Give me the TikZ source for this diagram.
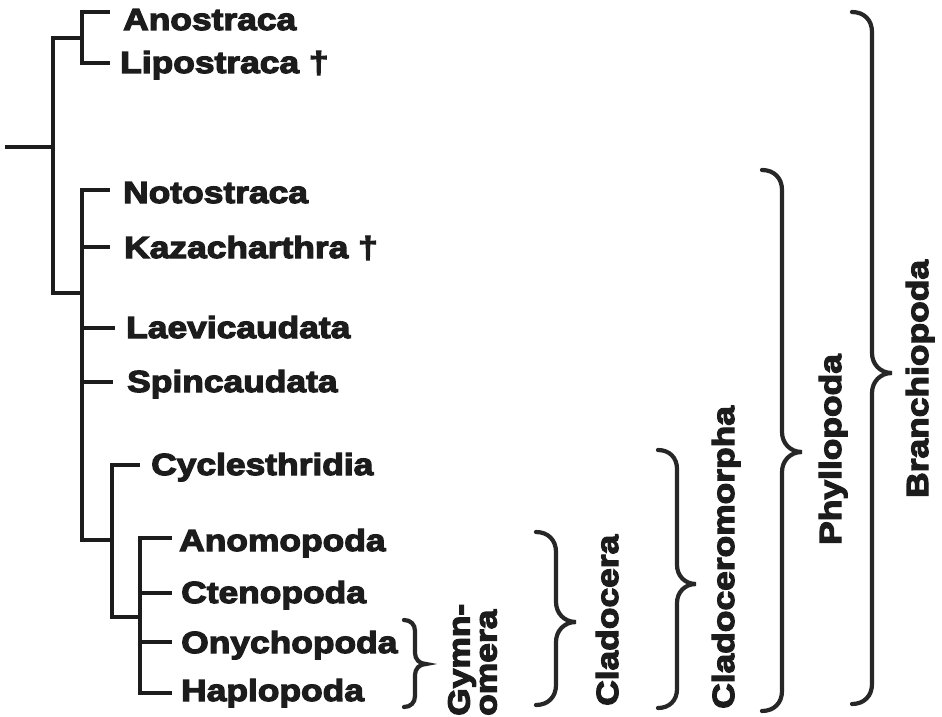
\documentclass[tikz,border=0pt]{standalone}
\usepackage{fontspec}
\newfontfamily\labfont{Liberation Sans}[FakeStretch=1.16,FakeBold=4]
\definecolor{ink}{HTML}{1C1C1C}
\tikzset{
  tree/.style={line width=4.8pt, draw=ink, line join=miter},
  bracestyle/.style={line width=4.2pt, draw=ink!95, line cap=round},
  lab/.style={font=\labfont\bfseries\fontsize{30.5}{27}\selectfont, text=ink, inner sep=0pt, anchor=base west},
  vlab/.style={lab, rotate=90},
}
\newcommand\cbrace[5]{% x of stem, top y, tip y, bottom y, width
  \draw[bracestyle] (#1-#5,#2) .. controls (#1-0.4*#5,#2) and (#1,#2+0.4*#5) .. (#1,#2+#5)
    -- (#1,#3-#5) .. controls (#1,#3-0.45*#5) and (#1+0.4*#5,#3) .. (#1+#5,#3)
    .. controls (#1+0.4*#5,#3) and (#1,#3+0.45*#5) .. (#1,#3+#5)
    -- (#1,#4-#5) .. controls (#1,#4-0.4*#5) and (#1-0.4*#5,#4) .. (#1-#5,#4);
}
\begin{document}
\begin{tikzpicture}[x=1pt,y=-1pt]
\useasboundingbox[fill=white] (0,0) rectangle (942,717);
% internal nodes
\coordinate (root) at (5,147);
\coordinate (nB) at (53,147);
\coordinate (nA) at (82,38);
\coordinate (nP) at (82,293);
\coordinate (nC) at (112,540);
\coordinate (nD) at (140,617);
% leaf line ends
\coordinate (eAno) at (110,12);
\coordinate (eLip) at (110,63);
\coordinate (eNot) at (110,190);
\coordinate (eKaz) at (110,247);
\coordinate (eLae) at (115,328);
\coordinate (eSpi) at (113,382);
\coordinate (eCyc) at (140,465);
\coordinate (eAnm) at (172,538);
\coordinate (eCte) at (172,593);
\coordinate (eOny) at (172,642);
\coordinate (eHap) at (172,693);
% tree
\draw[tree] (root) -- (nB);
\draw[tree] (nB) |- (nA);
\draw[tree] (nB) |- (nP);
\draw[tree] (nA) |- (eAno);
\draw[tree] (nA) |- (eLip);
\draw[tree] (nP) |- (eNot);
\draw[tree] (nP) |- (eKaz);
\draw[tree] (nP) |- (eLae);
\draw[tree] (nP) |- (eSpi);
\draw[tree] (nP) |- (nC);
\draw[tree] (nC) |- (eCyc);
\draw[tree] (nC) |- (nD);
\draw[tree] (nD) |- (eAnm);
\draw[tree] (nD) |- (eCte);
\draw[tree] (nD) |- (eOny);
\draw[tree] (nD) |- (eHap);
% leaf labels
\node[lab] (Ano) at (123,30) {Anostraca};
\node[lab] (Lip) at (120,73) {Lipostraca †};
\node[lab] (Not) at (123,203) {Notostraca};
\node[lab] (Kaz) at (124,258) {Kazacharthra †};
\node[lab] (Lae) at (126,338) {Laevicaudata};
\node[lab] (Spi) at (127,392) {Spincaudata};
\node[lab] (Cyc) at (151,475) {Cyclesthridia};
\node[lab] (Anm) at (179,551) {Anomopoda};
\node[lab] (Cte) at (181,603) {Ctenopoda};
\node[lab] (Ony) at (181,653) {Onychopoda};
\node[lab] (Hap) at (181,701) {Haplopoda};
% braces
\cbrace{415}{620}{664}{707}{11}
\cbrace{556}{532}{622}{705}{20}
\cbrace{677}{450}{584}{708}{19}
\cbrace{782}{170}{452}{711}{20}
\cbrace{872}{12}{373}{704}{20}
% group labels
\node[vlab, align=left, anchor=north west] (Gym) at (448,716) {Gymn-\\omera};
\node[vlab] (Cla) at (618,706) {Cladocera};
\node[vlab] (Clm) at (734,709) {Cladoceromorpha};
\node[vlab] (Phy) at (841,545) {Phyllopoda};
\node[vlab] (Bra) at (928,498) {Branchiopoda};
\end{tikzpicture}
\end{document}
